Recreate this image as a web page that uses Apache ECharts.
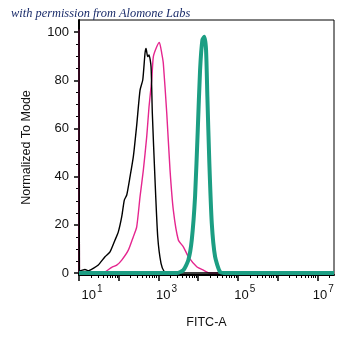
<!DOCTYPE html>
<html>
<head>
<meta charset="utf-8">
<script src="https://cdn.jsdelivr.net/npm/echarts@6/dist/echarts.min.js"></script>
<style>
html,body{margin:0;padding:0;background:#fff;}
#chart{width:355px;height:348px;}
</style>
</head>
<body>
<div id="chart"></div>
<script>
// x values are log10(FITC-A)
var blackX = [1.0, 1.01, 1.025, 1.151, 1.234, 1.360, 1.486, 1.655, 1.781, 1.907, 1.990, 2.076, 2.141, 2.202, 2.285, 2.368, 2.453, 2.537, 2.605, 2.662, 2.688, 2.730, 2.763, 2.814, 2.846, 2.914, 2.982, 3.065, 3.149, 3.249, 7.42];
var blackY = [101, 1.2, 0.95, 1.5, 0.95, 1.95, 3.3, 6.8, 8.8, 13.7, 17.1, 23.4, 30.3, 32.4, 40.0, 48.3, 61.4, 75.9, 80.1, 91.2, 93.2, 89.8, 90.5, 85.6, 66.4, 38.6, 15.1, 4.0, 0.5, 0, 0];
var pinkX = [1.0, 1.01, 1.025, 1.403, 1.655, 1.824, 1.950, 2.076, 2.242, 2.368, 2.453, 2.537, 2.620, 2.705, 2.763, 2.831, 2.872, 2.957, 3.023, 3.083, 3.123, 3.209, 3.292, 3.375, 3.501, 3.627, 3.753, 3.965, 4.131, 4.300, 4.5];
var pinkY = [101, 0.3, 0, 0, 0.5, 2.4, 3.3, 5.4, 9.5, 15.1, 19.2, 31.7, 42.7, 56.6, 69.0, 80.1, 89.8, 93.9, 95.7, 91.2, 87.0, 66.4, 42.7, 26.1, 13.7, 10.9, 6.8, 2.6, 1.2, 0, 0];
var greenX = [1.0, 3.461, 3.627, 3.753, 3.839, 3.922, 3.990, 4.048, 4.106, 4.156, 4.199, 4.232, 4.282, 4.343, 4.426, 4.552, 4.720, 7.42];
var greenY = [0, 0, 1.2, 5.4, 13.7, 31.7, 59.3, 84.2, 96.7, 98.0, 92.5, 73.2, 45.5, 20.6, 6.8, 0.5, 0, 0];

var xMajor = [1, 2, 3, 4, 5, 6, 7];
var xLabelExp = [1, 3, 5, 7];
var yMajor = [0, 20, 40, 60, 80, 100];
var yMinor = [5, 10, 15, 25, 30, 35, 45, 50, 55, 65, 70, 75, 85, 90, 95];

var X_MIN = 1, X_MAX = 7.42, Y_MIN = -0.8, Y_MAX = 105;

var xMinor = [];
for (var d = 1; d <= 7; d++) {
  for (var k = 2; k <= 9; k++) {
    var v = d + Math.log10(k);
    if (v <= X_MAX) xMinor.push(v);
  }
}
function pairs(xs, ys) { return xs.map(function (x, i) { return [x, ys[i]]; }); }

var FONT = '"Liberation Sans", Arial, sans-serif';
var padMap = {1: 26, 3: 16, 5: 14, 7: 12};

var chart = echarts.init(document.getElementById('chart'), null, {renderer: 'canvas'});
chart.setOption({
  animation: false,
  backgroundColor: '#fff',
  title: {
    text: 'with permission from Alomone Labs',
    left: 11, top: 8, padding: 0,
    textStyle: {fontFamily: '"Liberation Serif", "DejaVu Serif", serif', fontStyle: 'italic', fontWeight: 'normal', fontSize: 12.4, color: '#1b2d6b'}
  },
  grid: {left: 79, right: 21, top: 20, bottom: 73, show: true, borderColor: '#000', borderWidth: 1, backgroundColor: 'transparent'},
  xAxis: [{
    type: 'value', min: X_MIN, max: X_MAX, position: 'bottom',
    name: 'FITC-A', nameLocation: 'middle', nameGap: 41,
    nameTextStyle: {fontFamily: FONT, fontSize: 12.5, color: '#111'},
    axisLine: {show: true, onZero: false, lineStyle: {color: '#000', width: 2}},
    axisTick: {show: true, inside: false, length: 6, lineStyle: {color: '#000', width: 1.5}, customValues: xMajor},
    splitLine: {show: false},
    axisLabel: {
      show: true, margin: 9, customValues: xLabelExp,
      formatter: function (v) { var e = Math.round(v); return '{b' + e + '|10}{s|' + e + '}'; },
      rich: {
        b1: {fontFamily: FONT, fontSize: 13, color: '#111', verticalAlign: 'bottom', lineHeight: 18, padding: [0, 0, 0, padMap[1]]},
        b3: {fontFamily: FONT, fontSize: 13, color: '#111', verticalAlign: 'bottom', lineHeight: 18, padding: [0, 0, 0, padMap[3]]},
        b5: {fontFamily: FONT, fontSize: 13, color: '#111', verticalAlign: 'bottom', lineHeight: 18, padding: [0, 0, 0, padMap[5]]},
        b7: {fontFamily: FONT, fontSize: 13, color: '#111', verticalAlign: 'bottom', lineHeight: 18, padding: [0, 0, 0, padMap[7]]},
        s: {fontFamily: FONT, fontSize: 10, color: '#111', verticalAlign: 'top', lineHeight: 10, padding: [0, 0, 0, 1]}
      }
    }
  }, {
    type: 'value', min: X_MIN, max: X_MAX, position: 'bottom',
    axisLine: {show: false, onZero: false},
    axisTick: {show: true, inside: false, length: 3, lineStyle: {color: '#000', width: 1}, customValues: xMinor},
    axisLabel: {show: false}, splitLine: {show: false}
  }],
  yAxis: [{
    type: 'value', min: Y_MIN, max: Y_MAX, position: 'left',
    name: 'Normalized To Mode', nameLocation: 'middle', nameGap: 46, nameRotate: 90,
    nameTextStyle: {fontFamily: FONT, fontSize: 12.5, color: '#111'},
    axisLine: {show: true, onZero: false, lineStyle: {color: '#000', width: 2}},
    axisTick: {show: true, inside: false, length: 5, lineStyle: {color: '#000', width: 1.5}, customValues: yMajor},
    axisLabel: {show: true, margin: 10, customValues: yMajor, fontFamily: FONT, fontSize: 13, color: '#111'},
    splitLine: {show: false}
  }, {
    type: 'value', min: Y_MIN, max: Y_MAX, position: 'left',
    axisLine: {show: false, onZero: false},
    axisTick: {show: true, inside: false, length: 3, lineStyle: {color: '#000', width: 1}, customValues: yMinor},
    axisLabel: {show: false}, splitLine: {show: false}
  }],
  series: [{
    name: 'pink', type: 'line', xAxisIndex: 0, yAxisIndex: 0, showSymbol: false, smooth: 0.2,
    lineStyle: {color: '#e5268f', width: 1.4}, data: pairs(pinkX, pinkY), z: 2
  }, {
    name: 'black', type: 'line', xAxisIndex: 0, yAxisIndex: 0, showSymbol: false, smooth: 0.2,
    lineStyle: {color: '#000', width: 1.4}, data: pairs(blackX, blackY), z: 3
  }, {
    name: 'green', type: 'line', xAxisIndex: 0, yAxisIndex: 0, showSymbol: false, smooth: 0.2,
    lineStyle: {color: '#1c9e83', width: 4}, data: pairs(greenX, greenY), z: 4
  }]
});
</script>
</body>
</html>
